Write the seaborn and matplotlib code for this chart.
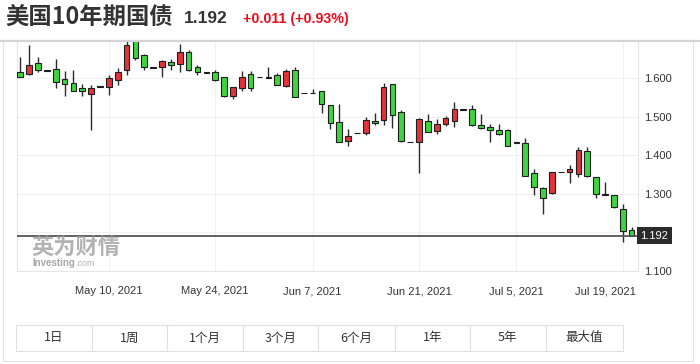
import numpy as np
import pandas as pd
import seaborn as sns
import matplotlib
matplotlib.use("Agg")
import matplotlib.pyplot as plt
from matplotlib.patches import Rectangle
from matplotlib.lines import Line2D
from matplotlib.transforms import ScaledTranslation, blended_transform_factory

# daily candles (one per session, Sunday sessions included)
opens = [1.616, 1.610, 1.640, 1.620, 1.625, 1.599, 1.588, 1.574, 1.560, 1.576,
         1.578, 1.595, 1.622, 1.700, 1.659, 1.628, 1.628, 1.641, 1.636, 1.667,
         1.628, 1.615, 1.616, 1.602, 1.555, 1.574, 1.610, 1.603, 1.602, 1.608,
         1.579, 1.621, 1.562, 1.562, 1.566, 1.530, 1.487, 1.437, 1.457, 1.458,
         1.489, 1.491, 1.584, 1.513, 1.435, 1.435, 1.489, 1.463, 1.480, 1.489,
         1.518, 1.521, 1.478, 1.474, 1.465, 1.465, 1.433, 1.433, 1.353, 1.314,
         1.301, 1.357, 1.356, 1.351, 1.412, 1.343, 1.298, 1.297, 1.262, 1.206]
highs = [1.654, 1.686, 1.654, 1.621, 1.649, 1.618, 1.621, 1.585, 1.583, 1.579,
         1.607, 1.626, 1.700, 1.705, 1.662, 1.628, 1.646, 1.650, 1.688, 1.673,
         1.634, 1.615, 1.622, 1.603, 1.578, 1.619, 1.619, 1.603, 1.630, 1.614,
         1.625, 1.629, 1.562, 1.571, 1.567, 1.531, 1.532, 1.467, 1.458, 1.498,
         1.509, 1.588, 1.586, 1.517, 1.435, 1.496, 1.507, 1.494, 1.501, 1.539,
         1.520, 1.530, 1.506, 1.481, 1.480, 1.467, 1.433, 1.444, 1.364, 1.318,
         1.357, 1.357, 1.375, 1.422, 1.422, 1.344, 1.331, 1.298, 1.274, 1.213]
lows = [1.603, 1.608, 1.617, 1.619, 1.574, 1.555, 1.566, 1.555, 1.466, 1.576,
        1.557, 1.583, 1.607, 1.647, 1.620, 1.627, 1.602, 1.622, 1.617, 1.618,
        1.609, 1.614, 1.592, 1.550, 1.546, 1.567, 1.567, 1.602, 1.601, 1.581,
        1.578, 1.550, 1.561, 1.561, 1.510, 1.468, 1.434, 1.424, 1.457, 1.452,
        1.478, 1.478, 1.470, 1.435, 1.434, 1.353, 1.460, 1.455, 1.476, 1.474,
        1.518, 1.477, 1.469, 1.435, 1.452, 1.424, 1.432, 1.346, 1.297, 1.249,
        1.300, 1.356, 1.327, 1.343, 1.345, 1.290, 1.297, 1.264, 1.174, 1.192]
closes = [1.604, 1.634, 1.620, 1.619, 1.591, 1.584, 1.566, 1.566, 1.575, 1.579,
          1.600, 1.617, 1.686, 1.653, 1.628, 1.627, 1.645, 1.633, 1.669, 1.620,
          1.616, 1.614, 1.594, 1.553, 1.577, 1.602, 1.574, 1.602, 1.601, 1.582,
          1.618, 1.552, 1.561, 1.561, 1.534, 1.484, 1.435, 1.450, 1.458, 1.491,
          1.483, 1.578, 1.504, 1.438, 1.434, 1.493, 1.461, 1.480, 1.496, 1.519,
          1.520, 1.478, 1.470, 1.465, 1.455, 1.425, 1.432, 1.347, 1.317, 1.290,
          1.356, 1.356, 1.364, 1.415, 1.346, 1.299, 1.297, 1.265, 1.204, 1.192]

tick_pos = [10, 22, 33, 45, 56, 68]
tick_labels = ["May 10, 2021", "May 24, 2021", "Jun 7, 2021",
               "Jun 21, 2021", "Jul 5, 2021", "Jul 19, 2021"]
y_ticks = [1.1, 1.2, 1.3, 1.4, 1.5, 1.6]
last_price = 1.192

title = "美国10年期国债"
price_txt = "1.192"
change_txt = "+0.011 (+0.93%)"
buttons = ["1日", "1周", "1个月", "3个月", "6个月", "1年", "5年", "最大值"]
btn_edges = [15.6, 91.5, 167.4, 243.3, 318.3, 395, 470, 545.5, 622.8]

sns.set_theme(style="white")
plt.rcParams["font.family"] = ["Liberation Sans", "Noto Sans CJK SC", "DejaVu Sans"]
cjk = ["Noto Sans CJK SC", "DejaVu Sans"]

W, H = 700, 364
def fx(x):
    return x / W
def fy(y):
    return 1 - y / H

fig = plt.figure(figsize=(7, 3.64), dpi=100)
fig.patch.set_facecolor("white")

# outer frame and top shadow
fig.add_artist(Rectangle((fx(3), fy(361)), fx(690), (361 - 40) / H, fill=False,
                         edgecolor="#e2e2e2", lw=0.8, transform=fig.transFigure))
fig.add_artist(Line2D([0, 1], [fy(40.5), fy(40.5)], color="#d4d4d4", lw=1.6,
                      transform=fig.transFigure))

ax = fig.add_axes([fx(17), fy(271), (638 - 17) / W, (271 - 41.5) / H])
ax.set_facecolor("white")

df = pd.DataFrame({"o": opens, "h": highs, "l": lows, "c": closes})
df["x"] = np.arange(len(df))
df["up"] = df["c"] >= df["o"]
df["bottom"] = df[["o", "c"]].min(axis=1)
df["height"] = (df["c"] - df["o"]).abs().clip(lower=0.0015)
colors = np.where(df["up"], "#e2323a", "#3dd43d")

# grid
for t in y_ticks:
    ax.axhline(t, color="#f0f0f0", lw=0.8, zorder=0)
for t in tick_pos:
    ax.axvline(t, color="#f0f0f0", lw=0.8, zorder=0)

# watermark
fig.text(fx(31), fy(247), "英为财情", family=cjk, fontsize=16, fontweight="bold",
         color="#9a9a9a", alpha=0.75, va="center", ha="left")
fig.text(fx(32), fy(263), "Investing", fontsize=7, fontweight="bold",
         color="#909090", alpha=0.8, va="center", ha="left")
fig.text(fx(75.5), fy(263.5), ".com", fontsize=6.5, color="#b0b0b0",
         va="center", ha="left")

ax.vlines(df["x"], df["l"], df["h"], color="#2a2a2a", lw=1.0, zorder=2)
ax.bar(df["x"], df["height"], bottom=df["bottom"], width=0.64, color=colors,
       edgecolor="#1e1e1e", linewidth=0.8, zorder=3)

ax.axhline(last_price, color="#555555", lw=1.3, zorder=4)

ax.set_xlim(-0.37, 69.72)
ax.set_ylim(1.1, 1.695)

ax.set_xticks(tick_pos)
ax.set_xticklabels(tick_labels)
ax.set_yticks(y_ticks)
# the 1.200 label sits under the last-price box, so it is left blank
ax.set_yticklabels(["" if abs(t - 1.2) < 1e-9 else f"{t:.3f}" for t in y_ticks])
ax.yaxis.tick_right()
ax.tick_params(axis="y", length=0, pad=4.5, labelsize=8, labelcolor="#333333")
ax.tick_params(axis="x", length=0, pad=11, labelsize=8, labelcolor="#333333")
lab = ax.get_xticklabels()[-1]
lab.set_horizontalalignment("right")
lab.set_transform(lab.get_transform() + ScaledTranslation(13 / 100, 0, fig.dpi_scale_trans))

for s in ["left", "right", "bottom"]:
    ax.spines[s].set_color("#e6e6e6")
    ax.spines[s].set_linewidth(0.8)
ax.spines["top"].set_visible(False)

# last price box
tr = blended_transform_factory(ax.transAxes, ax.transData)
ax.text(1.004, last_price, price_txt, transform=tr, ha="left", va="center",
        fontsize=8, color="white", zorder=6, clip_on=False,
        bbox=dict(boxstyle="square,pad=0.3", facecolor="#2b2b2b", edgecolor="none"))

# header
fig.text(fx(5), fy(17), title, family=cjk, fontsize=16.8, fontweight="bold",
         color="#333333", va="center", ha="left")
fig.text(fx(184), fy(18.5), price_txt, fontsize=12.5, fontweight="bold",
         color="#333333", va="center", ha="left")
fig.text(fx(243), fy(18.5), change_txt, fontsize=10.3, fontweight="bold",
         color="#e8101e", va="center", ha="left")

# range buttons
for i, b in enumerate(buttons):
    x0, x1 = btn_edges[i], btn_edges[i + 1]
    fig.add_artist(Rectangle((fx(x0), fy(351)), fx(x1 - x0), 26 / H, facecolor="white",
                             edgecolor="#e0e0e0", lw=0.8, transform=fig.transFigure))
    fig.text(fx((x0 + x1) / 2), fy(338), b, family=cjk, fontsize=9,
             color="#333333", ha="center", va="center")

fig.savefig("out.png", dpi=100)
